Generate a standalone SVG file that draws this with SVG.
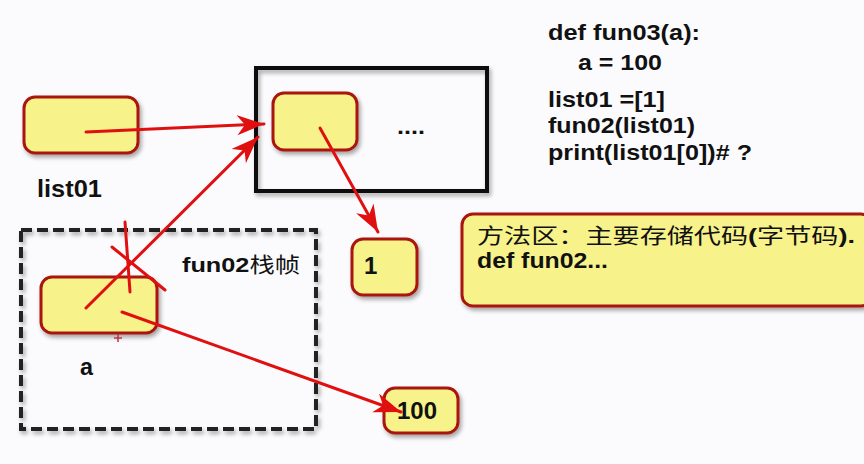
<svg xmlns="http://www.w3.org/2000/svg" width="864" height="464" viewBox="0 0 864 464">
<defs>
  <filter id="sh" x="-20%" y="-20%" width="150%" height="160%">
    <feDropShadow dx="2" dy="3" stdDeviation="2" flood-color="#000" flood-opacity="0.35"/>
  </filter>
  <marker id="ah" markerUnits="userSpaceOnUse" markerWidth="30" markerHeight="22" refX="27" refY="10" orient="auto">
    <path d="M0,0 L27,10 L0,20 L8,10 Z" fill="#e01010"/>
  </marker>
  <style>
    .node{fill:#f7f28a;stroke:#a8140e;stroke-width:3;filter:url(#sh)}
    .frame{fill:none;stroke:#111;stroke-width:4;filter:url(#sh)}
    .dash{fill:none;stroke:#222;stroke-width:4;stroke-dasharray:11 5;filter:url(#sh)}
    .t{font-family:"Liberation Sans","Noto Sans CJK SC",sans-serif;font-weight:bold;fill:#111}
    .cjk{font-family:"Noto Sans CJK SC",sans-serif;font-weight:normal}
    .ln{fill:none;stroke:#e01010;stroke-width:3;stroke-linecap:round}
    .arr{fill:none;stroke:#e01010;stroke-width:3;stroke-linecap:round;marker-end:url(#ah)}
  </style>
</defs>
<rect width="864" height="464" fill="#fbfbfd"/>

<g id="code">
  <text class="t" x="548" y="40" font-size="22" textLength="152" lengthAdjust="spacingAndGlyphs">def fun03(a):</text>
  <text class="t" x="578" y="70" font-size="22" textLength="84" lengthAdjust="spacingAndGlyphs">a = 100</text>
  <text class="t" x="548" y="107" font-size="22" textLength="117" lengthAdjust="spacingAndGlyphs">list01 =[1]</text>
  <text class="t" x="548" y="133" font-size="22" textLength="147" lengthAdjust="spacingAndGlyphs">fun02(list01)</text>
  <text class="t" x="548" y="160" font-size="22" textLength="204" lengthAdjust="spacingAndGlyphs">print(list01[0])# ?</text>
</g>

<g id="heap-list">
  <rect class="frame" x="256" y="68" width="231" height="123"/>
  <text class="t" x="397" y="134" font-size="22" textLength="28" lengthAdjust="spacingAndGlyphs">....</text>
</g>

<g id="list01">
  <rect class="node" x="24" y="97" width="114" height="56" rx="11"/>
  <text class="t" x="37" y="197" font-size="24" textLength="65" lengthAdjust="spacingAndGlyphs">list01</text>
</g>

<g id="list-item0">
  <rect class="node" x="273" y="93" width="84" height="57" rx="11"/>
</g>

<g id="frame-fun02">
  <rect class="dash" x="21" y="230" width="295" height="199"/>
  <text class="t" x="182" y="272" font-size="21" textLength="118" lengthAdjust="spacingAndGlyphs">fun02<tspan class="cjk">栈帧</tspan></text>
</g>

<g id="a">
  <rect class="node" x="41" y="277" width="116" height="56" rx="11"/>
  <text class="t" x="80" y="375" font-size="24" textLength="13" lengthAdjust="spacingAndGlyphs">a</text>
</g>

<g id="one">
  <rect class="node" x="352" y="239" width="65" height="56" rx="11"/>
  <text class="t" x="364" y="274" font-size="24">1</text>
</g>

<g id="hundred">
  <rect class="node" x="384" y="388" width="74" height="45" rx="11"/>
  <text class="t" x="397" y="419" font-size="23" textLength="40" lengthAdjust="spacingAndGlyphs">100</text>
</g>

<g id="method-area">
  <rect class="node" x="462" y="214" width="410" height="92" rx="11"/>
  <text class="t" x="477" y="243" font-size="21" textLength="378" lengthAdjust="spacingAndGlyphs"><tspan class="cjk">方法区：主要存储代码</tspan>(<tspan class="cjk">字节码</tspan>).</text>
  <text class="t" x="477" y="268" font-size="22" textLength="131" lengthAdjust="spacingAndGlyphs">def fun02...</text>
</g>

<g id="connectors">
  <line class="arr" x1="86" y1="132" x2="264" y2="124"/>
  <line class="arr" x1="86" y1="308" x2="258" y2="137"/>
  <line class="arr" x1="320" y1="128" x2="378" y2="232"/>
  <line class="arr" x1="122" y1="312" x2="401" y2="412"/>
  <line class="ln" x1="125" y1="222" x2="130" y2="292"/>
  <line class="ln" x1="112" y1="247" x2="165" y2="290"/>
  <path d="M118,334 V342 M114,338 H122" stroke="#c0304a" stroke-width="1.5"/>
</g>
</svg>
